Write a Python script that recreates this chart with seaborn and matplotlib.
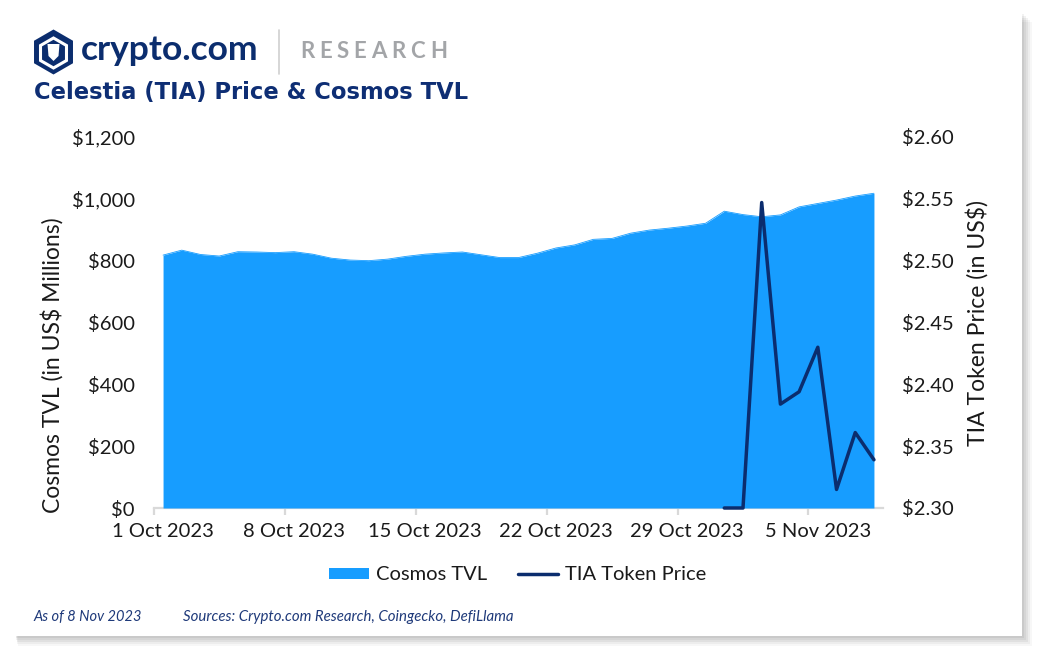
import numpy as np
import pandas as pd
import matplotlib
matplotlib.use("Agg")
import matplotlib.pyplot as plt
import seaborn as sns
from matplotlib.patches import Rectangle, Polygon, Patch
from matplotlib.lines import Line2D
from matplotlib.ticker import FuncFormatter, FixedLocator

# ---------------- data ----------------
tick_labels = ["1 Oct 2023", "8 Oct 2023", "15 Oct 2023", "22 Oct 2023",
               "29 Oct 2023", "5 Nov 2023"]
tick_days = [0, 7, 14, 21, 28, 35]
cosmos_tvl = [818, 834, 820, 815, 829, 828, 826, 829, 821, 808,
              802, 800, 805, 814, 821, 825, 828, 819, 810, 810,
              824, 841, 851, 869, 872, 889, 899, 905, 912, 921,
              960, 949, 942, 948, 974, 985, 996, 1009, 1018]
tia_price = [np.nan] * 30 + [2.30, 2.30, 2.547, 2.384, 2.394, 2.430,
                             2.315, 2.361, 2.339]
left_ticks = [0, 200, 400, 600, 800, 1000, 1200]
right_ticks = [2.30, 2.35, 2.40, 2.45, 2.50, 2.55, 2.60]

AREA = "#179DFF"
NAVY = "#0B2D6E"
TITLE = "#0E2E74"
GRAY_AX = "#D9D9D9"
TXT = "#1A1A1A"

W, H = 1046, 659
sns.set_theme(style="white")
plt.rcParams["font.family"] = ["Lato", "DejaVu Sans"]

fig = plt.figure(figsize=(W / 100, H / 100), dpi=100)
fig.patch.set_facecolor("white")


def fx(x):
    return x / W


def fy(y):
    return 1 - y / H


# card with soft shadow
for i, a in enumerate([0.05, 0.05, 0.05, 0.04, 0.03]):
    off = 2 + i * 2
    fig.add_artist(Rectangle((fx(15 + off * 0.3), fy(636 + off)), fx(1007 + off * 0.7), (636 - 12) / H,
                             transform=fig.transFigure, facecolor="black", alpha=a,
                             edgecolor="none", zorder=-3))
fig.add_artist(Rectangle((fx(15), fy(636)), fx(1007), (636 - 12) / H,
                         transform=fig.transFigure, facecolor="white",
                         edgecolor="none", zorder=-2))

df = pd.DataFrame({"day": np.arange(len(cosmos_tvl)), "tvl": cosmos_tvl, "tia": tia_price})

ax = fig.add_axes([fx(153.7), fy(508), fx(883.3 - 153.7), (508 - 137) / H])
ax.set_zorder(2)
ax.patch.set_visible(False)
ax.fill_between(df["day"], 0, df["tvl"], color=AREA, lw=0, zorder=2)
sns.lineplot(data=df, x="day", y="tvl", ax=ax, color=AREA, lw=0.6, zorder=2)
ax.set_xlim(-0.5, len(cosmos_tvl) - 0.5)
ax.set_ylim(0, 1200)

ax2 = ax.twinx()
ax2.set_zorder(3)
ax2.patch.set_visible(False)
sns.lineplot(data=df, x="day", y="tia", ax=ax2, color=NAVY, lw=2.5, clip_on=False, zorder=5)
ax2.set_ylim(2.30, 2.60)
ax2.set_xlim(-0.5, len(cosmos_tvl) - 0.5)

for a_ in (ax, ax2):
    for s in a_.spines.values():
        s.set_visible(False)
ax.spines["bottom"].set_visible(True)
ax.spines["bottom"].set_color(GRAY_AX)
ax.spines["bottom"].set_linewidth(1.6)
ax.spines["bottom"].set_zorder(1)

ax.xaxis.set_major_locator(FixedLocator(tick_days))
ax.set_xticklabels(tick_labels)
ax.xaxis.set_minor_locator(FixedLocator([d - 0.5 for d in tick_days]))
ax.tick_params(axis="x", which="major", length=0, pad=11, labelsize=14.5, labelcolor=TXT)
ax.tick_params(axis="x", which="minor", length=5, width=1.6, color=GRAY_AX, bottom=True)
ax.set_xlabel("")

ax.set_yticks(left_ticks)
ax.yaxis.set_major_formatter(FuncFormatter(lambda v, p: f"${v:,.0f}"))
ax.tick_params(axis="y", length=0, pad=13.5, labelsize=14.5, labelcolor=TXT)
ax.set_ylabel("Cosmos TVL (in US$ Millions)", fontsize=16.5, color=TXT)
ax.yaxis.set_label_coords(-0.124, 0.384)

ax2.set_yticks(right_ticks)
ax2.yaxis.set_major_formatter(FuncFormatter(lambda v, p: f"${v:.2f}"))
ax2.tick_params(axis="y", length=0, pad=13.5, labelsize=14.5, labelcolor=TXT)
ax2.set_ylabel("TIA Token Price (in US$)", fontsize=16.5, color=TXT)
ax2.yaxis.set_label_coords(1.113, 0.5)
ax2.tick_params(axis="x", length=0, labelbottom=False)
ax2.set_xlabel("")

handles = [Patch(facecolor=AREA, edgecolor="none"), Line2D([], [], color=NAVY, lw=2.5)]
fig.legend(handles, ["Cosmos TVL", "TIA Token Price"], loc="center",
           bbox_to_anchor=(fx(517.5), fy(575)), ncol=2, frameon=False, fontsize=14.5,
           handlelength=2.0, handleheight=0.45, handletextpad=0.35, columnspacing=1.5,
           labelcolor=TXT)

# header: logo
cx, cy, r = 53.5, 52, 22.5
hexv = [(fx(cx + r * np.cos(np.radians(a))), fy(cy - r * np.sin(np.radians(a))))
        for a in range(90, 450, 60)]
fig.add_artist(Polygon(hexv, closed=True, transform=fig.transFigure,
                       facecolor=NAVY, edgecolor="none", zorder=3))
r2 = 15
hexw = [(fx(cx + r2 * np.cos(np.radians(a))), fy(cy + 1 - r2 * np.sin(np.radians(a))))
        for a in range(90, 450, 60)]
fig.add_artist(Polygon(hexw, closed=True, transform=fig.transFigure,
                       facecolor="none", edgecolor="white", lw=2.2, zorder=4))
lion = [(fx(cx - 6), fy(cy - 8)), (fx(cx + 6), fy(cy - 8)), (fx(cx + 5), fy(cy + 4)),
        (fx(cx), fy(cy + 9)), (fx(cx - 5), fy(cy + 4))]
fig.add_artist(Polygon(lion, closed=True, transform=fig.transFigure,
                       facecolor="white", edgecolor="none", zorder=4))
fig.text(fx(81), fy(50), "crypto.com", fontsize=25.5, fontweight="bold", color=NAVY,
         va="center", ha="left", zorder=5)
fig.add_artist(Line2D([fx(279), fx(279)], [fy(30), fy(74)], transform=fig.transFigure,
                      color="#CFCFCF", lw=1.2, zorder=3))

# "RESEARCH" with letter spacing
renderer = fig.canvas.get_renderer()
word = "RESEARCH"
target_w = 147.0
glyphs = [fig.text(0, 0, ch, fontsize=16, fontweight="bold", color="#A3A5A8",
                   va="center", ha="left", zorder=5) for ch in word]
widths = [g.get_window_extent(renderer).width for g in glyphs]
gap = (target_w - sum(widths)) / (len(word) - 1)
xpos = 300.0
for g, wdt in zip(glyphs, widths):
    g.set_position((fx(xpos), fy(52)))
    xpos += wdt + gap

fig.text(fx(34), fy(93), "Celestia (TIA) Price & Cosmos TVL", fontsize=16.3,
         fontweight="bold", color=TITLE, va="center", ha="left", zorder=5,
         family=["DejaVu Sans"])

# footer
fig.text(fx(33), fy(617), "As of 8 Nov 2023", fontsize=10.5, style="italic", color="#1F3A7A",
         va="center", ha="left", zorder=5)
fig.text(fx(183), fy(617), "Sources: Crypto.com Research, Coingecko, DefiLlama", fontsize=10.8,
         style="italic", color="#1F3A7A", va="center", ha="left", zorder=5)

fig.savefig("out.png", dpi=100)
